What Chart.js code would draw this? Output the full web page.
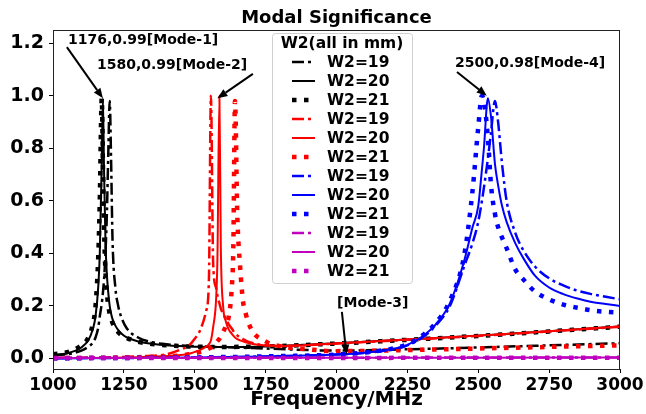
<!DOCTYPE html>
<html>
<head>
<meta charset="utf-8">
<script src="https://cdn.jsdelivr.net/npm/chart.js@4.4.1/dist/chart.umd.min.js"></script>
<style>
  html, body { margin: 0; padding: 0; background: #fff; }
  canvas { display: block; }
</style>
</head>
<body>
<canvas id="msChart" width="646" height="414"></canvas>
<script>
// frequency grids (MHz) and modal significance values
const blackFreq = [1000,1050,1100,1125,1140,1150,1160,1165,1172,1176,1180,1185,1190,1195,1200,1205,1210,1220,1230,1240,1260,1300,1350,1400,1500,1600,1750,2000,2250,2500,2750,3000];
const black19 = [0.012,0.016,0.03,0.045,0.06,0.08,0.12,0.16,0.21,0.25,0.3,0.4,0.55,0.78,0.98,0.75,0.45,0.27,0.2,0.16,0.115,0.08,0.062,0.054,0.047,0.043,0.038,0.03,0.035,0.042,0.05,0.058];
const black20 = [0.014,0.02,0.042,0.07,0.11,0.16,0.28,0.4,0.75,0.99,0.72,0.45,0.32,0.25,0.2,0.17,0.15,0.125,0.108,0.096,0.08,0.065,0.056,0.05,0.045,0.044,0.046,0.058,0.072,0.087,0.104,0.122];
const black21 = [0.016,0.024,0.05,0.08,0.13,0.2,0.4,0.6,0.99,0.75,0.5,0.33,0.25,0.2,0.17,0.15,0.135,0.115,0.1,0.09,0.078,0.064,0.055,0.05,0.045,0.044,0.046,0.057,0.071,0.086,0.103,0.121];

const redFreq = [1000,1100,1200,1300,1400,1450,1480,1500,1520,1540,1550,1557,1565,1575,1580,1587,1592,1600,1610,1620,1630,1636,1642,1650,1660,1670,1680,1700,1750,1800,1900,2000,2250,2500,2750,3000];
const red19 = [0.002,0.003,0.005,0.008,0.016,0.034,0.05,0.075,0.11,0.18,0.3,1.0,0.36,0.27,0.24,0.21,0.19,0.17,0.15,0.13,0.115,0.105,0.097,0.088,0.08,0.074,0.068,0.06,0.05,0.048,0.051,0.057,0.071,0.086,0.103,0.121];
const red20 = [0.001,0.002,0.003,0.005,0.009,0.013,0.018,0.025,0.033,0.045,0.055,0.068,0.12,0.22,0.38,1.0,0.42,0.2,0.14,0.11,0.095,0.087,0.08,0.074,0.069,0.065,0.062,0.056,0.049,0.047,0.051,0.057,0.072,0.087,0.104,0.122];
const red21 = [0.001,0.002,0.003,0.005,0.008,0.012,0.016,0.02,0.025,0.033,0.038,0.042,0.05,0.06,0.066,0.075,0.085,0.1,0.125,0.16,0.26,0.42,0.98,0.55,0.35,0.22,0.17,0.11,0.065,0.047,0.035,0.028,0.032,0.038,0.044,0.05];

const blueFreq = [1000,1250,1500,1750,2000,2100,2200,2250,2300,2350,2400,2450,2480,2500,2513,2520,2534,2545,2559,2570,2584,2600,2630,2660,2700,2750,2800,2850,2900,2950,3000];
const blue19 = [0.001,0.002,0.004,0.008,0.015,0.021,0.036,0.05,0.078,0.125,0.2,0.35,0.44,0.52,0.6,0.65,0.76,0.86,0.98,0.9,0.74,0.6,0.48,0.41,0.35,0.305,0.278,0.258,0.245,0.235,0.225];
const blue20 = [0.001,0.002,0.004,0.008,0.015,0.022,0.037,0.052,0.082,0.13,0.21,0.37,0.5,0.58,0.72,0.8,0.99,0.92,0.74,0.66,0.58,0.52,0.44,0.38,0.315,0.27,0.245,0.228,0.215,0.207,0.2];
const blue21 = [0.001,0.002,0.004,0.008,0.015,0.023,0.038,0.054,0.085,0.135,0.22,0.39,0.64,0.88,1.0,0.98,0.84,0.66,0.55,0.5,0.46,0.42,0.34,0.3,0.255,0.225,0.205,0.193,0.183,0.178,0.175];

const magFreq = [1000,1500,2000,2500,3000];
const mag19 = [0.003,0.003,0.003,0.004,0.004];
const mag20 = [0.002,0.002,0.003,0.003,0.004];
const mag21 = [0.002,0.002,0.002,0.003,0.003];

const xTicks = [1000,1250,1500,1750,2000,2250,2500,2750,3000];
const yTicks = [0.0,0.2,0.4,0.6,0.8,1.0,1.2];
const legendLabels = ["W2=19","W2=20","W2=21"];

const annotations = [
  { text: "1176,0.99[Mode-1]", at: [1053, 1.212], from: [1049, 1.185], to: [1176, 0.99] },
  { text: "1580,0.99[Mode-2]", at: [1155, 1.117], from: [1705, 1.083], to: [1580, 0.99] },
  { text: "[Mode-3]",          at: [2002, 0.211], from: [2019, 0.177], to: [2035, 0.015] },
  { text: "2500,0.98[Mode-4]", at: [2418, 1.124], from: [2425, 1.09],  to: [2530, 1.0] }
];

Chart.defaults.font.family = "'DejaVu Sans', sans-serif";
Chart.defaults.color = "#000";

const styles = [
  { borderWidth: 2.5, borderDash: [12, 4, 3, 4] },   // W2=19  dash-dot
  { borderWidth: 2,   borderDash: [] },              // W2=20  solid
  { borderWidth: 4.5, borderDash: [4.5, 7.5] }       // W2=21  dotted
];

function pts(freq, vals) {
  return freq.map((f, i) => ({ x: f, y: vals[i] }));
}

const groups = [
  { color: "#000000", freq: blackFreq, series: [black19, black20, black21] },
  { color: "#ff0000", freq: redFreq,   series: [red19, red20, red21] },
  { color: "#0000ff", freq: blueFreq,  series: [blue19, blue20, blue21] },
  { color: "#bf00bf", freq: magFreq,   series: [mag19, mag20, mag21] }
];

const datasets = [];
groups.forEach(g => {
  g.series.forEach((vals, k) => {
    datasets.push({
      label: legendLabels[k],
      data: pts(g.freq, vals),
      borderColor: g.color,
      backgroundColor: g.color,
      borderWidth: styles[k].borderWidth,
      borderDash: styles[k].borderDash,
      borderCapStyle: "butt",
      pointRadius: 0,
      fill: false,
      cubicInterpolationMode: "monotone"
    });
  });
});
// later series drawn on top, like the original
datasets.forEach((d, i) => { d.order = datasets.length - i; });

function arrow(ctx, x1, y1, x2, y2) {
  const ang = Math.atan2(y2 - y1, x2 - x1);
  const hl = 10, hw = 4;
  const bx = x2 - hl * Math.cos(ang), by = y2 - hl * Math.sin(ang);
  ctx.beginPath();
  ctx.moveTo(x1, y1);
  ctx.lineTo(bx, by);
  ctx.stroke();
  ctx.beginPath();
  ctx.moveTo(x2, y2);
  ctx.lineTo(bx + hw * Math.sin(ang), by - hw * Math.cos(ang));
  ctx.lineTo(bx - hw * Math.sin(ang), by + hw * Math.cos(ang));
  ctx.closePath();
  ctx.fill();
}

const decor = {
  id: "decor",
  beforeDraw(chart) {
    const ctx = chart.ctx;
    ctx.save();
    ctx.fillStyle = "#fff";
    ctx.fillRect(0, 0, chart.width, chart.height);
    ctx.restore();
  },
  afterDraw(chart) {
    const ctx = chart.ctx;
    const a = chart.chartArea;
    const xs = chart.scales.x, ys = chart.scales.y;

    ctx.save();
    // frame
    ctx.strokeStyle = "#222";
    ctx.lineWidth = 1;
    ctx.strokeRect(a.left + 0.5, a.top + 0.5, a.right - a.left - 1, a.bottom - a.top);

    // title
    ctx.fillStyle = "#000";
    ctx.font = "bold 18px 'DejaVu Sans'";
    ctx.textAlign = "center";
    ctx.textBaseline = "middle";
    ctx.fillText("Modal Significance", (a.left + a.right) / 2, 18);

    // annotations
    ctx.font = "bold 14px 'DejaVu Sans'";
    ctx.textAlign = "left";
    ctx.strokeStyle = "#000";
    ctx.lineWidth = 2;
    annotations.forEach(an => {
      ctx.fillText(an.text, xs.getPixelForValue(an.at[0]), ys.getPixelForValue(an.at[1]));
      arrow(ctx,
        xs.getPixelForValue(an.from[0]), ys.getPixelForValue(an.from[1]),
        xs.getPixelForValue(an.to[0]), ys.getPixelForValue(an.to[1]));
    });

    // legend
    const lx = 272, ly = 33, lw = 140, lh = 250;
    ctx.fillStyle = "rgba(255,255,255,0.85)";
    ctx.strokeStyle = "#d0d0d0";
    ctx.lineWidth = 1;
    ctx.beginPath();
    ctx.roundRect(lx + 0.5, ly + 0.5, lw, lh, 3);
    ctx.fill();
    ctx.stroke();

    ctx.fillStyle = "#000";
    ctx.font = "bold 15.5px 'DejaVu Sans'";
    ctx.textAlign = "center";
    ctx.fillText("W2(all in mm)", lx + lw / 2, ly + 11);
    ctx.textAlign = "left";
    chart.data.datasets.forEach((d, i) => {
      const y = ly + 29 + i * 19;
      ctx.strokeStyle = d.borderColor;
      ctx.lineWidth = d.borderWidth;
      ctx.setLineDash(d.borderDash || []);
      ctx.lineCap = "butt";
      ctx.beginPath();
      ctx.moveTo(lx + 20, y);
      ctx.lineTo(lx + 43, y);
      ctx.stroke();
      ctx.setLineDash([]);
      ctx.fillStyle = "#000";
      ctx.fillText(d.label, lx + 55, y + 1);
    });
    ctx.restore();
  }
};

new Chart(document.getElementById("msChart"), {
  type: "line",
  data: { datasets: datasets },
  options: {
    responsive: false,
    animation: false,
    devicePixelRatio: 1,
    layout: { padding: { top: 30, right: 26, left: 0, bottom: 0 } },
    plugins: {
      legend: { display: false },
      tooltip: { enabled: false },
      title: { display: false }
    },
    scales: {
      x: {
        type: "linear",
        min: 1000,
        max: 3000,
        afterBuildTicks: s => { s.ticks = xTicks.map(v => ({ value: v })); },
        afterFit: s => { s.height = 45; },
        ticks: {
          autoSkip: false,
          maxRotation: 0,
          padding: 2,
          color: "#000",
          font: { size: 17, weight: "bold" },
          callback: v => String(v)
        },
        grid: { drawOnChartArea: false, drawTicks: true, tickLength: 4, color: "#000" },
        border: { color: "#222" },
        title: {
          display: true,
          text: "Frequency/MHz",
          color: "#000",
          font: { size: 20, weight: "bold" },
          padding: { top: 0, bottom: 2 }
        }
      },
      y: {
        type: "linear",
        min: -0.04,
        max: 1.25,
        afterBuildTicks: s => { s.ticks = yTicks.map(v => ({ value: v })); },
        afterFit: s => { s.width = 53; },
        ticks: {
          autoSkip: false,
          padding: 5,
          color: "#000",
          font: { size: 19, weight: "bold" },
          callback: v => Number(v).toFixed(1)
        },
        grid: { drawOnChartArea: false, drawTicks: true, tickLength: 4, color: "#000" },
        border: { color: "#222" }
      }
    }
  },
  plugins: [decor]
});
</script>
</body>
</html>
